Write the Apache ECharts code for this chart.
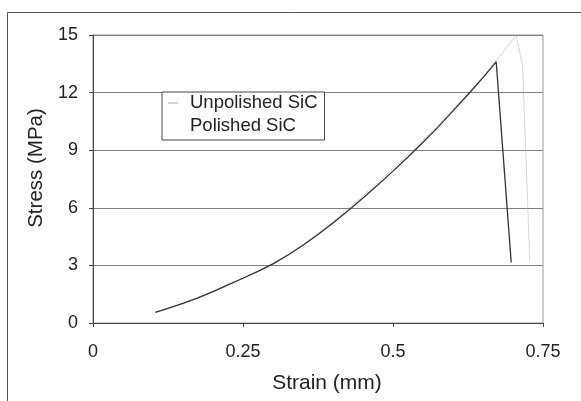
<!DOCTYPE html>
<html><head><meta charset="utf-8">
<script src="https://cdn.jsdelivr.net/npm/echarts@6/dist/echarts.min.js"></script>
<style>html,body{margin:0;padding:0;background:#fff}#c{width:581px;height:401px}</style>
</head><body><div id="c"></div>
<script>
const xTicks = [0, 0.25, 0.5, 0.75];
const yTicks = [0, 3, 6, 9, 12, 15];
const seriesNames = ['Unpolished SiC', 'Polished SiC'];
const unpolishedStrain = [0.104, 0.125, 0.15, 0.175, 0.2, 0.225, 0.25, 0.275, 0.3, 0.325, 0.35, 0.375, 0.4, 0.425, 0.45, 0.475, 0.5, 0.525, 0.55, 0.575, 0.6, 0.625, 0.65, 0.672, 0.69, 0.705, 0.716, 0.728];
const unpolishedStress = [0.56, 0.77, 1.03, 1.32, 1.64, 2.0, 2.35, 2.71, 3.1, 3.57, 4.09, 4.66, 5.28, 5.95, 6.63, 7.33, 8.04, 8.78, 9.53, 10.3, 11.12, 11.95, 12.82, 13.68, 14.35, 15.0, 13.4, 3.2];
const polishedStrain = [0.104, 0.125, 0.15, 0.175, 0.2, 0.225, 0.25, 0.275, 0.3, 0.325, 0.35, 0.375, 0.4, 0.425, 0.45, 0.475, 0.5, 0.525, 0.55, 0.575, 0.6, 0.625, 0.65, 0.672, 0.697];
const polishedStress = [0.55, 0.76, 1.02, 1.31, 1.63, 1.99, 2.33, 2.69, 3.08, 3.54, 4.05, 4.61, 5.21, 5.85, 6.51, 7.20, 7.91, 8.65, 9.41, 10.2, 11.05, 11.9, 12.78, 13.6, 3.15];

const font = 'Liberation Sans, Arial, sans-serif';
const chart = echarts.init(document.getElementById('c'), null, {renderer: 'canvas'});
chart.setOption({
  animation: false,
  backgroundColor: '#fff',
  grid: {left: 93, right: 38, top: 35, bottom: 78, show: true, borderColor: '#999', borderWidth: 1},
  graphic: [{type: 'rect', shape: {x: 7.5, y: 12.5, width: 700, height: 500}, style: {fill: 'none', stroke: '#555', lineWidth: 1}, silent: true}],
  legend: {
    left: 162, top: 92, orient: 'vertical', padding: [1, 7, 4, 6],
    icon: 'rect', itemWidth: 10, itemHeight: 1, itemGap: 3,
    borderColor: '#444', borderWidth: 1, backgroundColor: '#fff',
    textStyle: {fontFamily: font, fontSize: 18.5, lineHeight: 20, color: '#222', padding: [0, 0, 0, 7]},
    data: [{name: seriesNames[0], itemStyle: {color: '#aaa'}}, {name: seriesNames[1], itemStyle: {opacity: 0}}]
  },
  xAxis: {
    type: 'value', min: 0, max: 0.75, interval: 0.25,
    name: 'Strain (mm)', nameLocation: 'middle', nameGap: 50,
    nameTextStyle: {fontFamily: font, fontSize: 21, color: '#222', padding: [0, 0, 0, 18]},
    axisLine: {show: true, onZero: false, lineStyle: {color: '#444'}},
    axisTick: {show: true, length: 4, lineStyle: {color: '#444'}},
    axisLabel: {fontFamily: font, fontSize: 18, color: '#222', margin: 20, formatter: v => String(v)},
    splitLine: {show: false}
  },
  yAxis: {
    type: 'value', min: 0, max: 15, interval: 3,
    name: 'Stress (MPa)', nameLocation: 'middle', nameGap: 40,
    nameTextStyle: {fontFamily: font, fontSize: 20.5, color: '#222', padding: [0, 0, 0, 22]},
    axisLine: {show: true, lineStyle: {color: '#444'}},
    axisTick: {show: true, length: 4, lineStyle: {color: '#444'}},
    axisLabel: {fontFamily: font, fontSize: 18, color: '#222', margin: 15},
    splitLine: {show: true, lineStyle: {color: '#808080', width: 1}}
  },
  series: [
    {name: seriesNames[0], type: 'line', symbol: 'none', smooth: false,
     lineStyle: {color: '#aaaaaa', width: 1, type: 'dotted'}, itemStyle: {color: '#aaaaaa'},
     data: unpolishedStrain.map((x, i) => [x, unpolishedStress[i]]), z: 2},
    {name: seriesNames[1], type: 'line', symbol: 'none', smooth: false,
     lineStyle: {color: '#333', width: 1.3}, itemStyle: {color: '#333'},
     data: polishedStrain.map((x, i) => [x, polishedStress[i]]), z: 3}
  ]
});
</script></body></html>
